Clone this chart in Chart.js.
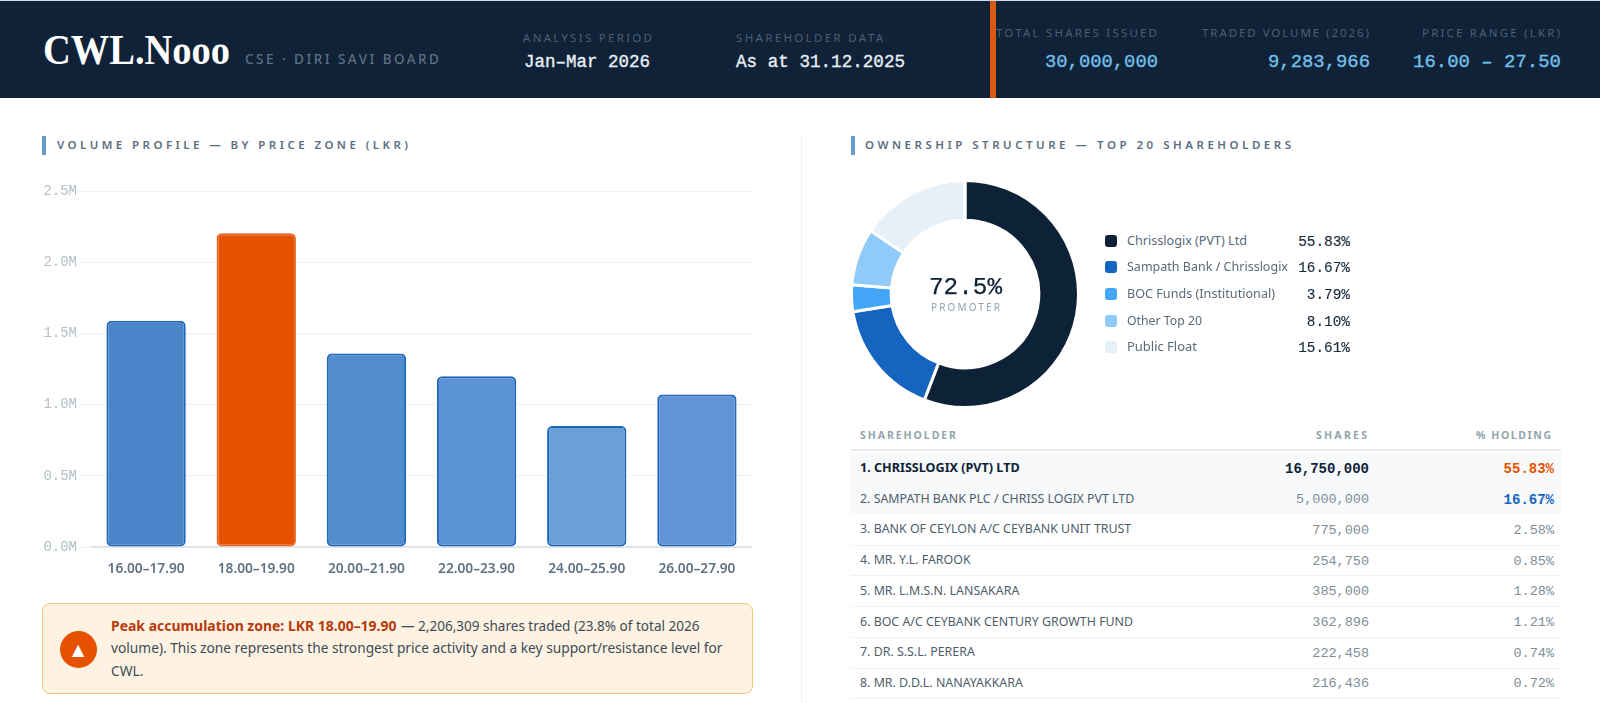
<!DOCTYPE html>
<html><head><meta charset="utf-8">
<script src="https://cdn.jsdelivr.net/npm/chart.js@4"></script>
<style>
html,body{margin:0;padding:0;background:#fff;overflow:hidden}
#root{position:relative;width:1600px;height:703px;overflow:hidden}
.r{position:absolute}
.t{position:absolute;white-space:pre;line-height:0;transform-origin:0 50%}
canvas{position:absolute}
</style></head><body><div id="root"></div>
<script>
const priceZones=['16.00–17.90','18.00–19.90','20.00–21.90','22.00–23.90','24.00–25.90','26.00–27.90'];
const zoneVolumes=[1590000,2206309,1360000,1200000,850000,1072000];
const zoneFills=['#4a85c9','#e65100','#528dd0','#5c93d4','#6a9fd8','#5f95d6'];
const zoneBorders=['#1f66b8','#e8621a','#1f66b8','#1f66b8','#1f66b8','#1f66b8'];
const yTicks={0:'0.0M',500000:'0.5M',1000000:'1.0M',1500000:'1.5M',2000000:'2.0M',2500000:'2.5M'};
const ownerLabels=['Chrisslogix (PVT) Ltd','Sampath Bank / Chrisslogix','BOC Funds (Institutional)','Other Top 20','Public Float'];
const ownerPct=[55.83,16.67,3.79,8.10,15.61];
const ownerColors=['#0d2137','#1565c0','#42a5f5','#90caf9','#e8f0f7'];
const holderNames=['1. CHRISSLOGIX (PVT) LTD','2. SAMPATH BANK PLC / CHRISS LOGIX PVT LTD','3. BANK OF CEYLON A/C CEYBANK UNIT TRUST','4. MR. Y.L. FAROOK','5. MR. L.M.S.N. LANSAKARA','6. BOC A/C CEYBANK CENTURY GROWTH FUND','7. DR. S.S.L. PERERA','8. MR. D.D.L. NANAYAKKARA'];
const holderShares=['16,750,000','5,000,000','775,000','254,750','385,000','362,896','222,458','216,436'];
const holderPct=['55.83%','16.67%','2.58%','0.85%','1.28%','1.21%','0.74%','0.72%'];

const root=document.getElementById('root');
const SANS='"Noto Sans"',MONO='"Liberation Mono"',SERIF='"Liberation Serif"';
const mc=document.createElement('canvas').getContext('2d');
function rect(x,y,w,h,bg,extra){const d=document.createElement('div');d.className='r';
  d.style.cssText+=`left:${x}px;top:${y}px;width:${w}px;height:${h}px;background:${bg};`+(extra||'');root.appendChild(d);return d;}
function T(s,o){const e=document.createElement('span');e.className='t';e.textContent=s;
  const w=o.weight||400;e.style.font=`${w} ${o.size}px ${o.font}`;e.style.lineHeight='0';e.style.color=o.color;
  if(o.stroke)e.style.webkitTextStroke=o.stroke+'px '+o.color;
  mc.font=`${w} ${o.size}px ${o.font}`;const m=mc.measureText('Hg');
  const A=m.fontBoundingBoxAscent,D=m.fontBoundingBoxDescent;
  e.style.top=(o.base-(A-D)/2)+'px';root.appendChild(e);
  const w0=e.getBoundingClientRect().width;
  if(o.x1!=null&&o.x2!=null){
    const tw=o.x2-o.x1;
    if(o.spaced){e.style.letterSpacing=((tw-w0)/(s.length-1))+'px';}
    else{e.style.transform=`scaleX(${tw/w0})`;}
    e.style.left=o.x1+'px';
  }else if(o.x2!=null){e.style.left=(o.x2-w0)+'px';}
  else{e.style.left=o.x1+'px';}
  return e;}

// header
rect(0,0,1600,98,'#0f2238');rect(0,0,1600,1,'#cfdcec');rect(990,1,6,97,'#d9590f');
T('CWL.Nooo',{x1:43,x2:230,base:64,size:42,font:SERIF,weight:700,color:'#fff'});
T('CSE · DIRI SAVI BOARD',{x1:245,x2:439,base:64,size:13.5,font:SANS,weight:500,color:'#5d7084',spaced:1});
const lab={size:11.5,font:SANS,color:'#4c5f73',spaced:1};
const val={size:18,font:MONO,weight:400,color:'#e9eff5',stroke:.35};
const val2={size:19,font:MONO,color:'#72bfe6',stroke:.35};
T('ANALYSIS PERIOD',{...lab,x1:523,x2:652,base:42});
T('Jan–Mar 2026',{...val,x1:524,x2:650,base:66.5});
T('SHAREHOLDER DATA',{...lab,x1:736,x2:883,base:42});
T('As at 31.12.2025',{...val,x1:736,x2:905,base:66.5});
T('TOTAL SHARES ISSUED',{...lab,x1:996,x2:1157,base:37});
T('30,000,000',{...val2,x1:1045,x2:1158,base:66.5});
T('TRADED VOLUME (2026)',{...lab,x1:1202,x2:1369,base:37});
T('9,283,966',{...val2,x1:1268,x2:1370,base:66.5});
T('PRICE RANGE (LKR)',{...lab,x1:1422,x2:1560,base:37});
T('16.00 – 27.50',{...val2,x1:1413,x2:1561,base:66.5});

// sections
const sec={size:11.5,font:SANS,weight:600,color:'#5b6e80',spaced:1};
rect(42,136,4,19,'#6699cc');T('VOLUME PROFILE — BY PRICE ZONE (LKR)',{...sec,x1:57,x2:408,base:149.5});
rect(851,136,4,19,'#6699cc');T('OWNERSHIP STRUCTURE — TOP 20 SHAREHOLDERS',{...sec,x1:865,x2:1291,base:149.5});
rect(801,136,1,567,'#eef1f4');

// bar chart
const cb=document.createElement('canvas');cb.id='bars';
cb.style.cssText='left:40px;top:179px;width:712px;height:408px';root.appendChild(cb);
new Chart(cb,{type:'bar',
  data:{labels:priceZones,datasets:[{data:zoneVolumes,backgroundColor:zoneFills,borderColor:zoneBorders,borderWidth:2,borderRadius:5,borderSkipped:false}]},
  options:{responsive:false,animation:false,layout:{padding:{top:10,right:0,left:0,bottom:0}},
    plugins:{legend:{display:false},tooltip:{enabled:false}},
    scales:{
      x:{grid:{display:false,drawTicks:false},border:{color:'#dfe6eb',width:2},
         ticks:{color:'#607282',font:{family:'Noto Sans',size:13.7,weight:'600'},padding:14,maxRotation:0,autoSkip:false},
         afterFit(a){a.height=40;}},
      y:{min:0,max:2500000,
         grid:{color:'#edf1f4',lineWidth:1,tickLength:10,tickColor:'#edf1f4'},border:{display:false},
         ticks:{stepSize:500000,color:'#b0bec5',font:{family:'Liberation Mono',size:14},padding:4,callback:v=>yTicks[v]},
         afterFit(a){a.width=51;}}
    }}});

// callout
rect(42,603,709,89,'#fef3e2','border:1px solid #f0c878;border-radius:8px;');
rect(59.5,630.5,37,37,'#e65100','border-radius:50%;');
T('▲',{x1:72,base:655,size:16,font:'"DejaVu Sans"',color:'#fff'});
const al={size:14,font:SANS,color:'#3d4a55'};
T('Peak accumulation zone: LKR 18.00–19.90',{...al,weight:700,color:'#b83a0c',x1:110.5,x2:396,base:631});
T('— 2,206,309 shares traded (23.8% of total 2026',{...al,x1:400.5,x2:699,base:631});
T('volume). This zone represents the strongest price activity and a key support/resistance level for',{...al,x1:110.5,x2:722,base:653});
T('CWL.',{...al,x1:110.5,x2:143,base:676});

// doughnut
const cd=document.createElement('canvas');cd.id='donut';
cd.style.cssText='left:850px;top:179px;width:230px;height:230px';root.appendChild(cd);
new Chart(cd,{type:'doughnut',
  data:{labels:ownerLabels,datasets:[{data:ownerPct,backgroundColor:ownerColors,borderColor:'#fff',borderWidth:3,hoverOffset:0}]},
  options:{responsive:false,animation:false,cutout:'65%',plugins:{legend:{display:false},tooltip:{enabled:false}}}});
T('72.5%',{x1:929,x2:1002,base:294,size:24,font:MONO,color:'#0d2137',stroke:.25});
T('PROMOTER',{x1:931,x2:1000,base:311,size:10,font:SANS,color:'#90a4ae',spaced:1});

// legend
const legY=[241,267,294,321,347];
const legEnd=[1247,1288,1275,1202,1197];
ownerLabels.forEach((l,i)=>{
  rect(1105,legY[i]-6,12,12,ownerColors[i],'border-radius:3px;');
  T(l,{x1:1127,x2:legEnd[i],base:legY[i]+4,size:13,font:SANS,color:'#5a6a78'});
  T(ownerPct[i].toFixed(2)+'%',{x2:1350,base:legY[i]+5,size:14.4,font:MONO,color:'#1a2b3c',stroke:.15});
});

// table
const hd={size:10.5,font:SANS,weight:700,color:'#90a4ae',spaced:1};
T('SHAREHOLDER',{...hd,x1:860,x2:956,base:439});
T('SHARES',{...hd,x1:1316,x2:1367,base:439});
T('% HOLDING',{...hd,x1:1476,x2:1551,base:439});
rect(851,452,710,62,'#f7f9fb');
rect(851,449,710,2,'#e6ebf0');
holderNames.forEach((n,i)=>{
  const base=472.5+i*30.7;
  if(i>1)rect(851,Math.round(514+(i-1)*30.7),710,1,'#f0f3f6');
  const bold=i===0;
  T(n,{x1:860,base,size:bold?12.6:12.4,font:SANS,weight:bold?700:400,color:bold?'#0d2137':'#4f5e6b'});
  T(holderShares[i],{x2:1369,base:base+.5,size:bold?14:13.5,font:MONO,weight:bold?700:400,color:bold?'#0d2137':'#7d8d99'});
  const pc=i===0?'#e65100':i===1?'#1565c0':'#7d8d99';
  T(holderPct[i],{x2:1554,base:base+.5,size:i<2?14:13.5,font:MONO,weight:i<2?700:400,color:pc});
});
</script></body></html>
